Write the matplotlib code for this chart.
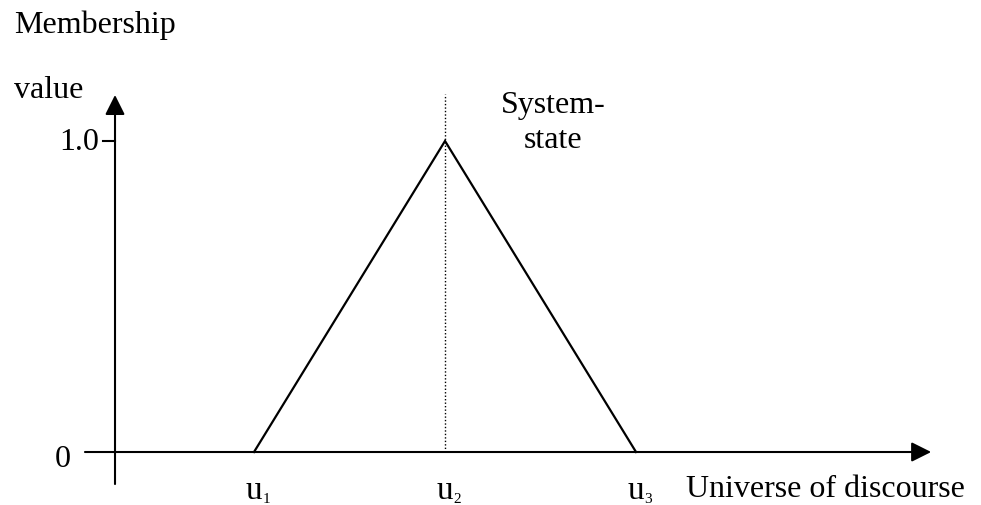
import matplotlib
matplotlib.use("Agg")
import matplotlib.pyplot as plt

plt.rcParams['font.family'] = ['Liberation Serif', 'DejaVu Serif']

# data
u_positions = [1, 2, 3]
membership = [0.0, 1.0, 0.0]
u_names = ['u', 'u', 'u']
u_subs = ['1', '2', '3']
y_ticks = [0.0, 1.0]
y_tick_labels = ['0', '1.0']

fig = plt.figure(figsize=(9.81, 5.06), dpi=100)
ax = fig.add_axes([0, 0, 1, 1])
ax.set_xlim(-0.3298, 4.806)
ax.set_ylim(-0.1704, 1.4566)
ax.axis('off')

fs = 23
# axes with arrows
ax.annotate('', xy=(4.545, 0), xytext=(0.115, 0),
            arrowprops=dict(arrowstyle='-|>', lw=1.5, color='black',
                            mutation_scale=30, shrinkA=0, shrinkB=0))
ax.annotate('', xy=(0.2723, 1.148), xytext=(0.2723, -0.103),
            arrowprops=dict(arrowstyle='-|>', lw=1.5, color='black',
                            mutation_scale=30, shrinkA=0, shrinkB=0))
# tick at 1.0
ax.plot([0.2095, 0.2723], [y_ticks[1], y_ticks[1]], color='black', lw=1.5)

# triangle
ax.plot(u_positions, membership, color='black', lw=1.6, solid_joinstyle='miter')
# dotted system-state line
ax.plot([u_positions[1], u_positions[1]], [0, 1.15], color='black', lw=1.0,
        linestyle=(0, (1, 1.5)))

# tick labels
ax.text(0.19, y_ticks[1], y_tick_labels[1], ha='right', va='center', fontsize=fs)
ax.text(0.04, y_ticks[0] - 0.02, y_tick_labels[0], ha='right', va='center', fontsize=fs)

for x, name, sub in zip(u_positions, u_names, u_subs):
    ax.text(x, -0.122, name, ha='center', va='center', fontsize=fs + 1)
    ax.annotate(sub, xy=(x, -0.122), xytext=(6, -6), textcoords='offset points',
                ha='left', va='center', fontsize=11)

ax.text(0.014, 0.951, 'Membership', transform=ax.transAxes, ha='left',
        va='center', fontsize=fs)
ax.text(0.014, 0.822, 'value', transform=ax.transAxes, ha='left',
        va='center', fontsize=fs)
ax.text(0.984, 0.032, 'Universe of discourse', transform=ax.transAxes,
        ha='right', va='center', fontsize=fs)
ax.text(0.5637, 0.757, 'System-\nstate', transform=ax.transAxes,
        ha='center', va='center', fontsize=fs, linespacing=1.3)

fig.savefig('out.png', dpi=100)
